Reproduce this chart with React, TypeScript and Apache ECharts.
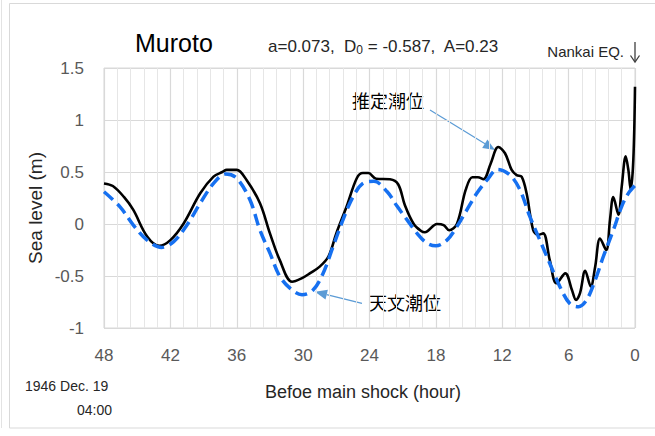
import React, { useEffect, useRef } from "react";
import * as echarts from "echarts";

// Hours before the main shock and sea level (m)
const obsHours = [48.0, 47.2, 46.2, 45.35, 44.1, 43.0, 42.0, 40.8, 39.3, 38.1, 37.3, 36.9, 36.0, 35.1, 33.9, 33.0, 32.1, 31.0, 30.1, 29.4, 28.5, 27.7, 27.0, 26.06, 25.15, 24.6, 24.1, 23.4, 22.15, 21.4, 20.8, 20.0, 19.3, 19.0, 17.9, 17.3, 16.8, 16.1, 15.3, 14.7, 14.2, 13.7, 13.05, 12.36, 11.75, 11.15, 10.7, 10.25, 9.8, 9.2, 8.75, 8.3, 7.7, 7.1, 6.3, 5.7, 5.33, 4.97, 4.5, 4.0, 3.6, 3.16, 2.6, 2.26, 1.96, 1.5, 1.2, 0.84, 0.6, 0.39, 0.15, 0.0];
const obsLevel = [0.39, 0.365, 0.26, 0.135, -0.12, -0.21, -0.155, 0.005, 0.295, 0.455, 0.5, 0.52, 0.52, 0.42, 0.2, -0.09, -0.35, -0.555, -0.52, -0.475, -0.41, -0.31, -0.09, 0.17, 0.44, 0.49, 0.49, 0.435, 0.43, 0.38, 0.18, 0.0, -0.07, -0.08, 0.0, -0.01, -0.06, 0.0, 0.33, 0.45, 0.45, 0.43, 0.58, 0.74, 0.68, 0.52, 0.47, 0.455, 0.295, -0.06, -0.105, -0.09, -0.35, -0.57, -0.475, -0.635, -0.73, -0.665, -0.45, -0.6, -0.41, -0.14, -0.25, 0.04, 0.26, 0.09, 0.36, 0.65, 0.52, 0.33, 0.62, 1.32];

const astHours = [48.0, 46.55, 45.35, 44.1, 42.8, 41.7, 40.5, 39.3, 38.1, 37.0, 36.0, 34.8, 33.9, 33.0, 32.1, 31.0, 30.1, 29.1, 28.2, 27.3, 26.4, 25.5, 24.6, 23.6, 22.4, 21.5, 20.6, 19.7, 18.8, 18.0, 17.0, 16.1, 15.2, 14.3, 13.4, 12.4, 11.3, 10.4, 9.5, 8.6, 7.7, 6.8, 5.9, 5.1, 4.37, 3.6, 2.87, 1.96, 1.2, 0.6, 0.0];
const astLevel = [0.31, 0.165, -0.01, -0.155, -0.225, -0.17, -0.01, 0.2, 0.39, 0.48, 0.44, 0.23, -0.06, -0.28, -0.505, -0.635, -0.68, -0.635, -0.475, -0.22, 0.04, 0.26, 0.39, 0.41, 0.31, 0.17, 0.04, -0.09, -0.185, -0.21, -0.155, -0.025, 0.135, 0.295, 0.42, 0.525, 0.47, 0.33, 0.07, -0.155, -0.38, -0.6, -0.765, -0.795, -0.73, -0.54, -0.315, -0.06, 0.17, 0.295, 0.37];

const seriesNames = ["推定潮位", "天文潮位"];
const titleText = "Muroto";
const paramA = "0.073";
const paramD0 = "-0.587";
const paramAmp = "0.23";
const xAxisName = "Befoe main shock (hour)";
const yAxisName = "Sea level (m)";
const startDate = "1946 Dec. 19";
const startTime = "04:00";
const eventLabel = "Nankai EQ.";

const FONT = '"Liberation Sans", Arial, sans-serif';
const CJK = '"Noto Sans CJK JP", sans-serif';

export default function App() {
  const ref = useRef<HTMLDivElement>(null);
  useEffect(() => {
    if (!ref.current) return;
    const chart = echarts.init(ref.current, undefined, { renderer: "svg" });
    const arrowColor = "#5b9bd5";
    chart.setOption({
      animation: false,
      backgroundColor: "#ffffff",
      grid: {
        left: 104,
        right: 20,
        top: 68,
        bottom: 108,
        show: true,
        borderColor: "#d9d9d9",
        borderWidth: 1,
      },
      xAxis: {
        type: "value",
        min: 0,
        max: 48,
        interval: 6,
        inverse: true,
        axisLine: { show: false },
        axisTick: { show: false },
        axisLabel: { color: "#595959", fontSize: 17, fontFamily: FONT, margin: 19 },
        splitLine: { show: true, lineStyle: { color: "#d9d9d9", width: 1.2 } },
        minorTick: { show: false, splitNumber: 5 },
        minorSplitLine: { show: true, lineStyle: { color: "#e6e6e6", width: 1 } },
      },
      yAxis: {
        type: "value",
        min: -1,
        max: 1.5,
        interval: 0.5,
        axisLine: { show: false },
        axisTick: { show: false },
        axisLabel: { color: "#595959", fontSize: 17, fontFamily: FONT, margin: 20 },
        splitLine: { show: true, lineStyle: { color: "#d9d9d9", width: 1.2 } },
      },
      series: [
        {
          name: seriesNames[0],
          type: "line",
          data: obsHours.map((h, i) => [h, obsLevel[i]]),
          showSymbol: false,
          smooth: 0.35,
          lineStyle: { color: "#000000", width: 2.6 },
          z: 2,
        },
        {
          name: seriesNames[1],
          type: "line",
          data: astHours.map((h, i) => [h, astLevel[i]]),
          showSymbol: false,
          smooth: 0.35,
          lineStyle: { color: "#1670f0", width: 3.5, type: [12, 6] },
          z: 3,
        },
      ],
      graphic: [
        { type: "line", shape: { x1: 1.5, y1: 0, x2: 1.5, y2: 428 }, style: { stroke: "#e3e3e3", lineWidth: 1 }, silent: true },
        { type: "rect", shape: { x: 9.5, y: 3.5, width: 700, height: 424.5 }, style: { fill: "none", stroke: "#d9d9d9", lineWidth: 1 }, silent: true },
        {
          type: "text",
          x: 135,
          y: 43,
          style: { text: titleText, fill: "#000", font: `25px ${FONT}`, textAlign: "left", align: "left", textVerticalAlign: "middle", verticalAlign: "middle" },
        },
        {
          type: "text",
          x: 268,
          y: 46,
          style: {
            text: `{n|a=${paramA},  D}{s|0}{n| = ${paramD0},  A=${paramAmp}}`,
            fill: "#262626",
            textAlign: "left",
            align: "left",
            textVerticalAlign: "middle",
            verticalAlign: "middle",
            rich: {
              n: { fontSize: 17, fontFamily: FONT, fill: "#262626", lineHeight: 20, verticalAlign: "middle" },
              s: { fontSize: 12, fontFamily: FONT, fill: "#262626", lineHeight: 20, verticalAlign: "bottom", padding: [8, 0, 0, 0] },
            },
          },
        },
        {
          type: "text",
          x: 624,
          y: 51,
          style: { text: eventLabel, fill: "#262626", font: `15px ${FONT}`, textAlign: "right", align: "right", textVerticalAlign: "middle", verticalAlign: "middle" },
        },
        { type: "line", shape: { x1: 635, y1: 42, x2: 635, y2: 62 }, style: { stroke: "#404040", lineWidth: 1.3 } },
        { type: "polyline", shape: { points: [[630.5, 55.5], [635, 62], [639.5, 55.5]] }, style: { stroke: "#404040", lineWidth: 1.3, fill: "none" } },
        {
          type: "text",
          x: 35,
          y: 208,
          rotation: Math.PI / 2,
          style: { text: yAxisName, fill: "#262626", font: `19px ${FONT}`, textAlign: "center", align: "center", textVerticalAlign: "middle", verticalAlign: "middle" },
        },
        {
          type: "text",
          x: 363,
          y: 392,
          style: { text: xAxisName, fill: "#262626", font: `18px ${FONT}`, textAlign: "center", align: "center", textVerticalAlign: "middle", verticalAlign: "middle" },
        },
        {
          type: "text",
          x: 25,
          y: 386,
          style: { text: startDate, fill: "#262626", font: `14px ${FONT}`, textAlign: "left", align: "left", textVerticalAlign: "middle", verticalAlign: "middle" },
        },
        {
          type: "text",
          x: 112,
          y: 410,
          style: { text: startTime, fill: "#262626", font: `14px ${FONT}`, textAlign: "right", align: "right", textVerticalAlign: "middle", verticalAlign: "middle" },
        },
        {
          type: "text",
          x: 352,
          y: 100,
          style: { text: seriesNames[0], fill: "#000", font: `18px ${CJK}`, textAlign: "left", align: "left", textVerticalAlign: "middle", verticalAlign: "middle" },
        },
        {
          type: "text",
          x: 369,
          y: 302,
          style: { text: seriesNames[1], fill: "#000", font: `18px ${CJK}`, textAlign: "left", align: "left", textVerticalAlign: "middle", verticalAlign: "middle" },
        },
        { type: "line", shape: { x1: 430, y1: 110, x2: 485, y2: 143.8 }, style: { stroke: arrowColor, lineWidth: 1.2 } },
        { type: "polygon", shape: { points: [[495, 150], [482.2, 148.0], [487.4, 139.4]] }, style: { fill: arrowColor } },
        { type: "line", shape: { x1: 362, y1: 303.3, x2: 326.7, y2: 294.6 }, style: { stroke: arrowColor, lineWidth: 1.2 } },
        { type: "polygon", shape: { points: [[315, 291.7], [327.9, 289.7], [325.5, 299.5]] }, style: { fill: arrowColor } },
      ],
    });
    return () => chart.dispose();
  }, []);
  return (
    <div
      ref={ref}
      style={{ position: "fixed", left: 0, top: 0, width: 655, height: 436, background: "#fff" }}
    />
  );
}
